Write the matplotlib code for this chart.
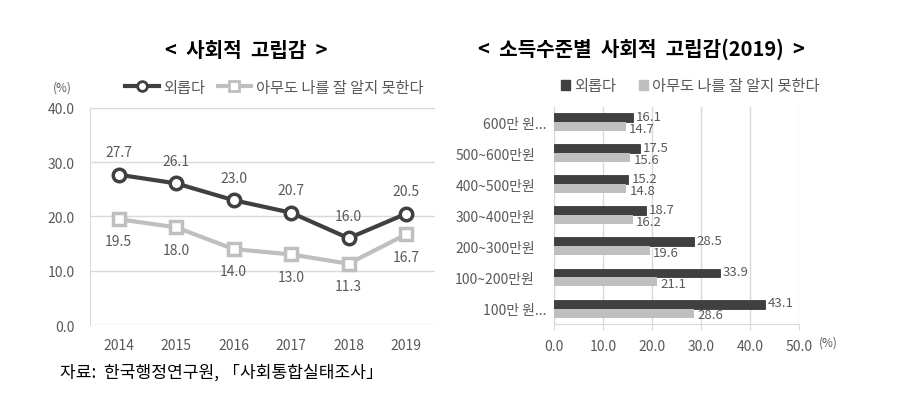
#!/usr/bin/python3
#
# plot.py - social isolation charts

import matplotlib.pyplot as plt
from matplotlib.lines import Line2D
from matplotlib.patches import Patch
from matplotlib.transforms import ScaledTranslation

plt.rcParams['font.family'] = ['Noto Sans CJK KR', 'DejaVu Sans']

years = ['2014', '2015', '2016', '2017', '2018', '2019']
lonely = [27.7, 26.1, 23.0, 20.7, 16.0, 20.5]
nobody_knows = [19.5, 18.0, 14.0, 13.0, 11.3, 16.7]

income_groups = ['600만 원...', '500~600만원', '400~500만원', '300~400만원',
                 '200~300만원', '100~200만원', '100만 원...']
income_lonely = [16.1, 17.5, 15.2, 18.7, 28.5, 33.9, 43.1]
income_nobody = [14.7, 15.6, 14.8, 16.2, 19.6, 21.1, 28.6]

dark = '#404040'
light = '#bfbfbf'
grid_c = '#d9d9d9'
txt = '#595959'

fig = plt.figure(figsize=(9.05, 4.02), dpi=100)

# left: line chart
ax1 = fig.add_axes([0.0994, 0.189, 0.381, 0.540])
x = range(len(years))
ax1.plot(x, lonely, color=dark, lw=3, marker='o', ms=9, mfc='white',
         mec=dark, mew=2.5, zorder=3)
ax1.plot(x, nobody_knows, color=light, lw=3, marker='s', ms=9, mfc='white',
         mec=light, mew=2.5, zorder=3)
for i, v in enumerate(lonely):
    ax1.annotate('%.1f' % v, (i, v), xytext=(0, 11), textcoords='offset points',
                 ha='center', va='bottom', fontsize=10, color=txt)
for i, v in enumerate(nobody_knows):
    ax1.annotate('%.1f' % v, (i, v), xytext=(0, -11), textcoords='offset points',
                 ha='center', va='top', fontsize=10, color=txt)
ax1.set_xlim(-0.5, len(years) - 0.5)
ax1.set_ylim(0, 40)
ax1.set_yticks([0, 10, 20, 30, 40])
ax1.set_yticklabels(['%.1f' % t for t in [0, 10, 20, 30, 40]])
ax1.set_xticks(list(x))
ax1.set_xticklabels(years)
ax1.yaxis.grid(True, color=grid_c, lw=1)
ax1.set_axisbelow(True)
for s in ['top', 'right', 'bottom']:
    ax1.spines[s].set_visible(False)
ax1.spines['left'].set_color(grid_c)
ax1.tick_params(length=0, labelsize=10, labelcolor=txt, pad=9)
ax1.tick_params(axis='y', pad=11)

fig.text(0.272, 0.875, '<  사회적  고립감  >', ha='center', va='center',
         fontsize=14.5, fontweight='bold', color='black')
fig.text(0.069, 0.781, '(%)', ha='center', va='center', fontsize=8.5, color=txt)
h1 = [Line2D([], [], color=dark, lw=3, marker='o', ms=7, mfc='white', mec=dark, mew=2),
      Line2D([], [], color=light, lw=3, marker='s', ms=7, mfc='white', mec=light, mew=2)]
fig.legend(h1, ['외롭다', '아무도 나를 잘 알지 못한다'], loc='center',
           bbox_to_anchor=(0.303, 0.781), ncol=2, frameon=False, fontsize=11,
           handlelength=2.2, handletextpad=0.3, columnspacing=0.8,
           labelcolor=txt)

# right: bar chart
ax2 = fig.add_axes([0.612, 0.1915, 0.271, 0.540])
n = len(income_groups)
ypos = list(range(n))
bh = 0.29
ax2.barh([y - bh / 2 for y in ypos], income_lonely, height=bh, color=dark,
         edgecolor='#262626', lw=0.5, zorder=3)
ax2.barh([y + bh / 2 for y in ypos], income_nobody, height=bh, color=light,
         zorder=3)
for y, v in zip(ypos, income_lonely):
    ax2.text(v + 0.6, y - bh / 2 - 0.06, '%.1f' % v, ha='left', va='center',
             fontsize=9.5, color=txt)
for y, v in zip(ypos, income_nobody):
    ax2.text(v + 0.6, y + bh / 2 + 0.06, '%.1f' % v, ha='left', va='center',
             fontsize=9.5, color=txt)
ax2.set_ylim(n - 0.5, -0.5)
ax2.set_xlim(0, 50)
ax2.set_xticks([0, 10, 20, 30, 40, 50])
ax2.set_xticklabels(['%.1f' % t for t in [0, 10, 20, 30, 40, 50]])
ax2.set_yticks(ypos)
ax2.set_yticklabels(income_groups)
ax2.xaxis.grid(True, color=grid_c, lw=1)
ax2.set_axisbelow(True)
for s in ['top', 'right']:
    ax2.spines[s].set_visible(False)
ax2.spines['left'].set_color(grid_c)
ax2.spines['bottom'].set_color(grid_c)
ax2.tick_params(axis='x', length=4, color=grid_c, labelsize=10,
                labelcolor=txt, pad=7)
ax2.tick_params(axis='y', length=0, labelsize=10, labelcolor=txt, pad=5)
# the wrapped labels sit closer to the axis than the others
for lbl in ax2.get_yticklabels():
    if not lbl.get_text().endswith('...'):
        lbl.set_transform(lbl.get_transform() +
                          ScaledTranslation(-12 / 100, 0, fig.dpi_scale_trans))
fig.text(0.915, 0.147, '(%)', ha='center', va='center', fontsize=8.5, color=txt)

fig.text(0.709, 0.878, '<  소득수준별  사회적  고립감(2019)  >', ha='center',
         va='center', fontsize=14.5, fontweight='bold', color='black')
h2 = [Patch(color=dark), Patch(color=light)]
fig.legend(h2, ['외롭다', '아무도 나를 잘 알지 못한다'], loc='center',
           bbox_to_anchor=(0.763, 0.784), ncol=2, frameon=False, fontsize=11,
           handlelength=0.55, handleheight=0.55, handletextpad=0.3,
           columnspacing=1.5, labelcolor=txt)

fig.text(0.066, 0.072, '자료:  한국행정연구원, 「사회통합실태조사」', ha='left',
         va='center', fontsize=12.3, color='black')

fig.savefig('out.png', dpi=100)
